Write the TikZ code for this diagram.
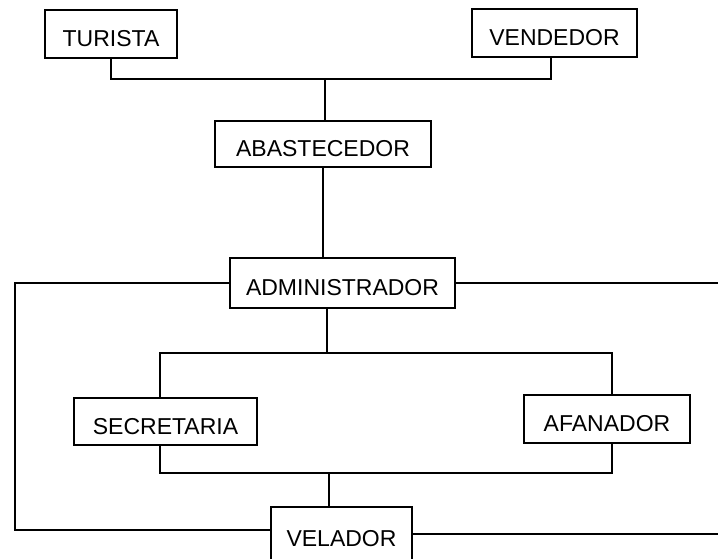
\documentclass[tikz,border=0pt]{standalone}
\usepackage{fontspec}
\setmainfont{Liberation Sans}
\tikzset{
    caja/.style={
        draw=black, line width=1.6pt, inner sep=0pt,
        text height=25pt, text depth=0pt,
        font=\fontsize{23}{27}\selectfont
    },
    enlace/.style={draw=black, line width=1.6pt}
}

\begin{document}
\begin{tikzpicture}[x=1pt, y=-1pt]

\useasboundingbox[fill=white] (0,0) rectangle (718,559);

% Cajas del organigrama.
\node[caja, minimum width=132pt, minimum height=48pt] (tur) at (111,34) {TURISTA};
\node[caja, minimum width=165pt, minimum height=48pt] (ven) at (554.5,33) {VENDEDOR};
\node[caja, minimum width=216pt, minimum height=46pt] (aba) at (323,144) {ABASTECEDOR};
\node[caja, minimum width=225pt, minimum height=50pt] (adm) at (342.5,283) {ADMINISTRADOR};
\node[caja, minimum width=183pt, minimum height=47pt] (sec) at (165.5,421.5) {SECRETARIA};
\node[caja, minimum width=166pt, minimum height=48pt] (afa) at (607,419) {AFANADOR};
\node[caja, minimum width=141pt, minimum height=54pt] (vel) at (341.5,534) {VELADOR};

% Puntos de union.
\coordinate (jtop) at (325,79);
\coordinate (jven) at (551,79);
\coordinate (jmid) at (327,353);
\coordinate (jsec) at (160,353);
\coordinate (jafa) at (612,353);
\coordinate (jbaj) at (329,473);
\coordinate (lft) at (15,530);
\coordinate (rgt) at (720,0);

% Turista y vendedor hacia el abastecedor.
\draw[enlace] (tur.south) |- (jven) -- (jven |- ven.south);
\draw[enlace] (jtop) -- (jtop |- aba.north);
\draw[enlace] (aba.south) -- (aba.south |- adm.north);

% Lineas laterales del administrador.
\draw[enlace] (adm.west) -| (lft) -- (lft -| vel.west);
\draw[enlace] (adm.east) -- (adm.east -| rgt);
\draw[enlace] (vel.east) -- (vel.east -| rgt);

% Administrador hacia secretaria y afanador.
\draw[enlace] (jmid |- adm.south) -- (jmid);
\draw[enlace] (jsec |- sec.north) -- (jsec) -- (jafa) -- (jafa |- afa.north);

% Secretaria y afanador hacia el velador.
\draw[enlace] (jsec |- sec.south) |- (jbaj -| jafa) -- (jafa |- afa.south);
\draw[enlace] (jbaj) -- (jbaj |- vel.north);

\end{tikzpicture}
\end{document}
